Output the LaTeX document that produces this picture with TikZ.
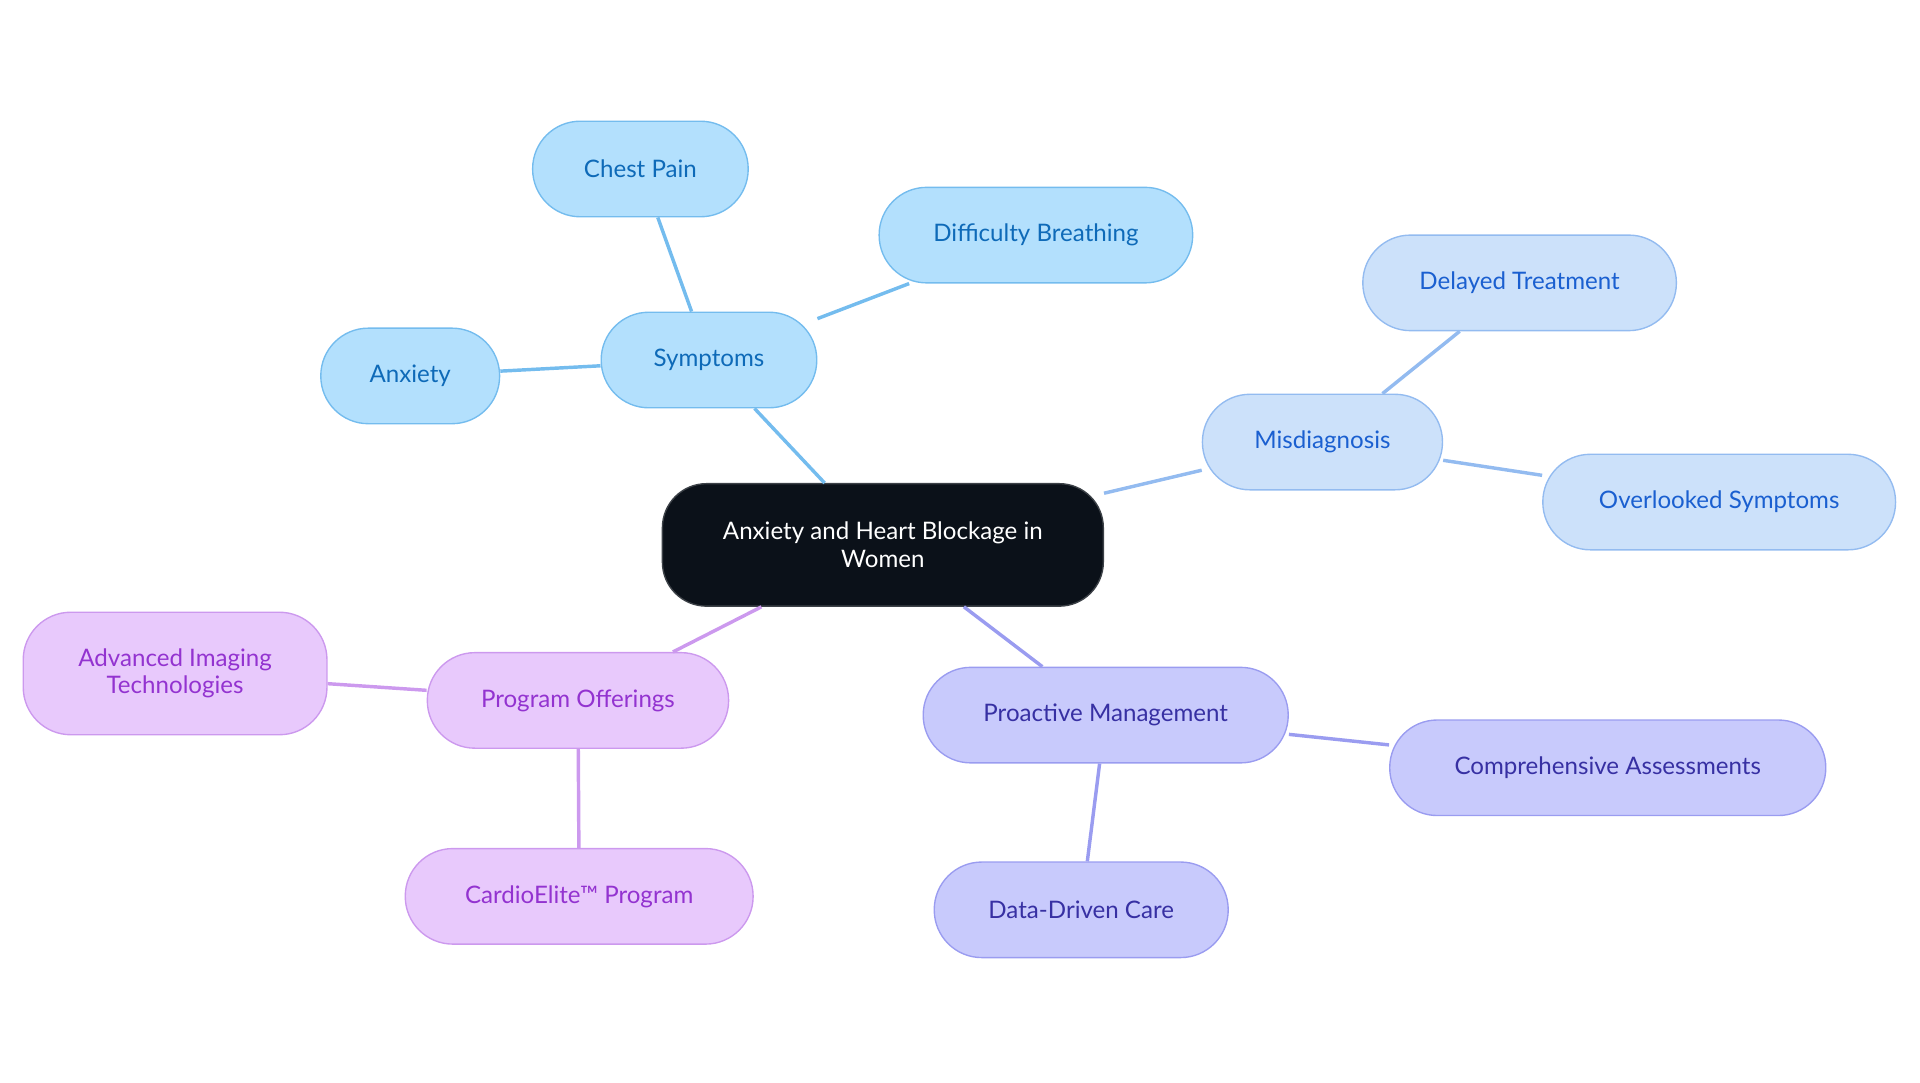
\documentclass[tikz,border=0pt]{standalone}
\usepackage{fontspec}
\setmainfont{Lato}
\definecolor{cfill}{HTML}{0B1119}
\definecolor{bfill}{HTML}{B3E0FD}\definecolor{bline}{HTML}{74BCEE}\definecolor{btext}{HTML}{0E6AB8}
\definecolor{mfill}{HTML}{CCE1FA}\definecolor{mline}{HTML}{93BBF0}\definecolor{mtext}{HTML}{1A5FD0}
\definecolor{pfill}{HTML}{C8CAFC}\definecolor{pline}{HTML}{9A9CF0}\definecolor{ptext}{HTML}{3730A3}
\definecolor{ofill}{HTML}{E8C9FC}\definecolor{oline}{HTML}{CC99EE}\definecolor{otext}{HTML}{9333D0}
\begin{document}
\begin{tikzpicture}[x=0.025cm,y=-0.025cm,
 base/.style={rounded corners=0.97cm,minimum height=1.95cm,align=center,line width=0.8pt,font=\fontsize{14}{16}\selectfont,inner sep=0pt},
 ctr/.style={base,fill=cfill,draw=cfill!80,text=white,minimum height=2.5cm,rounded corners=0.9cm},
 sb/.style={base,fill=bfill,draw=bline,text=btext},
 sm/.style={base,fill=mfill,draw=mline,text=mtext},
 sp/.style={base,fill=pfill,draw=pline,text=ptext},
 so/.style={base,fill=ofill,draw=oline,text=otext},
 eb/.style={draw=bline,line width=2pt},
 em/.style={draw=mline,line width=2pt},
 ep/.style={draw=pline,line width=2pt},
 eo/.style={draw=oline,line width=2pt}]
\useasboundingbox (0,0) rectangle (1568,884);
\node[ctr,minimum width=9cm] (c) at (721,445) {Anxiety and Heart Blockage in\\Women};
\node[sb,minimum width=4.4cm] (s) at (579,294) {Symptoms};
\node[sb,minimum width=4.4cm] (cp) at (523,138) {Chest Pain};
\node[sb,minimum width=6.4cm] (db) at (846,192) {Difficulty Breathing};
\node[sb,minimum width=3.65cm] (an) at (335,307) {Anxiety};
\node[sm,minimum width=4.9cm] (m) at (1080,361) {Misdiagnosis};
\node[sm,minimum width=6.4cm] (dt) at (1241,231) {Delayed Treatment};
\node[sm,minimum width=7.2cm] (os) at (1404,410) {Overlooked Symptoms};
\node[sp,minimum width=7.45cm] (pm) at (903,584) {Proactive Management};
\node[sp,minimum width=8.9cm] (ca) at (1313,627) {Comprehensive Assessments};
\node[sp,minimum width=6cm] (dd) at (883,743) {Data-Driven Care};
\node[so,minimum width=6.15cm] (po) at (472,572) {Program Offerings};
\node[so,minimum width=6.2cm,minimum height=2.5cm] (ai) at (143,550) {Advanced Imaging\\Technologies};
\node[so,minimum width=7.1cm] (ce) at (473,732) {CardioElite™ Program};
\begin{scope}[on background layer/.style={}]
\end{scope}
\draw[eb] (c) -- (s); \draw[eb] (s) -- (cp); \draw[eb] (s) -- (db); \draw[eb] (s) -- (an);
\draw[em] (c) -- (m); \draw[em] (m) -- (dt); \draw[em] (m) -- (os);
\draw[ep] (c) -- (pm); \draw[ep] (pm) -- (ca); \draw[ep] (pm) -- (dd);
\draw[eo] (c) -- (po); \draw[eo] (po) -- (ai); \draw[eo] (po) -- (ce);
\end{tikzpicture}
\end{document}
